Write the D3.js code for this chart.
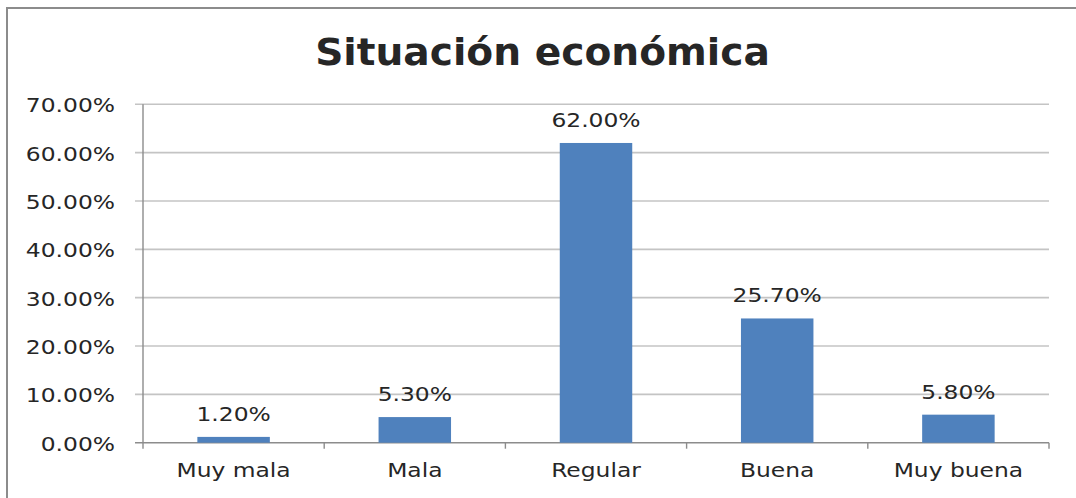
<!DOCTYPE html>
<html>
<head>
<meta charset="utf-8">
<title>Situación económica</title>
<script src="https://cdn.jsdelivr.net/npm/d3@7"></script>
<style>
  body { margin: 0; background: #fff; overflow: hidden; }
  svg { display: block; }
  text { font-family: "DejaVu Sans", sans-serif; fill: #262626; }
</style>
</head>
<body>
<script>
var width = 1076
var height = 498

var categories = ["Muy mala", "Mala", "Regular", "Buena", "Muy buena"]
var values = [0.012, 0.053, 0.62, 0.257, 0.058]
var yTicks = [0, 0.1, 0.2, 0.3, 0.4, 0.5, 0.6, 0.7]
var title = "Situación económica"

var svg = d3.select("body").append("svg")
    .attr("width", width)
    .attr("height", height)

// chart border: only the left and top edges are inside the picture
svg.append("path")
    .attr("d", "M7," + height + "V8H" + width)
    .attr("fill", "none")
    .attr("stroke", "#8c8c8c")
    .attr("stroke-width", 2)

var plotLeft = 143, plotRight = 1049, plotTop = 104.3, plotBottom = 442.7

var x = d3.scaleBand().domain(categories).range([plotLeft, plotRight])
    .paddingInner(0.6).paddingOuter(0.3)
var y = d3.scaleLinear().domain([0, 0.7]).range([plotBottom, plotTop])
var fmt = d3.format(".2%")
var sx = 1.17

// stretched text helper
function label(px, py, str, anchor, size, k, weight) {
  svg.append("g")
      .attr("transform", "translate(" + px + "," + py + ") scale(" + k + ",1)")
    .append("text")
      .attr("text-anchor", anchor)
      .attr("font-size", size)
      .attr("font-weight", weight || "normal")
      .text(str)
}

label(width / 2 + 4.5, 65, title, "middle", 38, 1.03, "bold")

// gridlines + y labels
yTicks.forEach(function(t) {
  svg.append("line")
      .attr("x1", plotLeft - 8).attr("x2", plotRight)
      .attr("y1", y(t)).attr("y2", y(t))
      .attr("stroke", t == 0 ? "#8c8c8c" : "#c4c4c4")
      .attr("stroke-width", 1.6)
  label(115, y(t) + 8, fmt(t), "end", 20, sx)
})

// y axis line
svg.append("line")
    .attr("x1", plotLeft).attr("x2", plotLeft)
    .attr("y1", plotTop).attr("y2", plotBottom + 6)
    .attr("stroke", "#8c8c8c").attr("stroke-width", 1.4)

// x ticks at category borders
var step = x.step()
categories.forEach(function(c, i) {
  var b = x(c) + x.bandwidth() / 2 + step / 2
  svg.append("line")
      .attr("x1", b).attr("x2", b)
      .attr("y1", plotBottom).attr("y2", plotBottom + 6)
      .attr("stroke", "#8c8c8c").attr("stroke-width", 1.4)
})

svg.selectAll("rect.bar")
    .data(values)
    .enter()
    .append("rect")
    .attr("class", "bar")
    .attr("x", function(d, i) { return x(categories[i]) })
    .attr("width", x.bandwidth())
    .attr("y", function(d) { return y(d) })
    .attr("height", function(d) { return plotBottom - y(d) })
    .attr("fill", "#4f81bd")

values.forEach(function(v, i) {
  var cx = x(categories[i]) + x.bandwidth() / 2
  label(cx, y(v) - 16, fmt(v), "middle", 20, sx)
  label(cx, plotBottom + 34, categories[i], "middle", 20, sx)
})
</script>
</body>
</html>
